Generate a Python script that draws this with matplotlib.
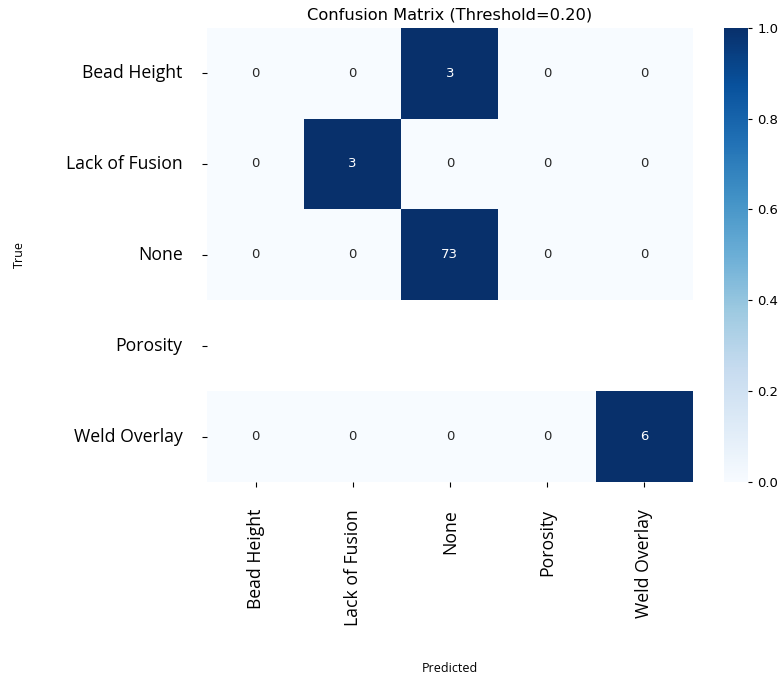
import numpy as np
import matplotlib
matplotlib.use("Agg")
import matplotlib.pyplot as plt
import seaborn as sns

classes = ["Bead Height", "Lack of Fusion", "None", "Porosity", "Weld Overlay"]
counts = [
    [0, 0, 3, 0, 0],
    [0, 3, 0, 0, 0],
    [0, 0, 73, 0, 0],
    [0, 0, 0, 0, 0],
    [0, 0, 0, 0, 6],
]
threshold = 0.20

cm = np.array(counts, dtype=float)
row_sums = cm.sum(axis=1, keepdims=True)
with np.errstate(invalid="ignore", divide="ignore"):
    cm_norm = cm / row_sums

fig = plt.figure(figsize=(7.81, 6.76), dpi=100)
ax = fig.add_axes([0.265, 0.287, 0.622, 0.672])
cax = fig.add_axes([0.927, 0.287, 0.031, 0.672])

sns.heatmap(cm_norm, annot=np.array(counts), fmt="d", cmap="Blues",
            vmin=0, vmax=1, ax=ax, cbar_ax=cax,
            xticklabels=classes, yticklabels=classes,
            annot_kws={"fontsize": 9.5, "family": "DejaVu Sans"})

ax.set_title(f"Confusion Matrix (Threshold={threshold:.2f})",
             fontsize=11.7, family="DejaVu Sans", pad=6)
ax.set_xlabel("Predicted", fontsize=9, family="Open Sans", labelpad=26)
ax.set_ylabel("True", fontsize=9, family="Open Sans", labelpad=29)
ax.set_xticklabels(classes, rotation=90, fontsize=12.7, family="Open Sans")
ax.set_yticklabels(classes, rotation=0, fontsize=12.7, family="Open Sans")
ax.tick_params(axis="x", length=3.5, width=0.8, pad=16)
ax.tick_params(axis="y", length=3.5, width=0.8, pad=14)
for t in cax.get_yticklabels():
    t.set_fontsize(9.5)
    t.set_family("DejaVu Sans")
cax.tick_params(length=3, width=0.8)

fig.savefig("out.png", dpi=100)
